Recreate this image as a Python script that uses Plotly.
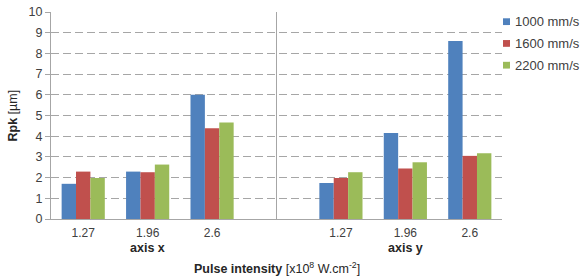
import plotly.graph_objects as go

categories = ["1.27", "1.96", "2.6", "", "1.27", "1.96", "2.6"]
groups = ["axis x", "axis y"]
series_names = ["1000 mm/s", "1600 mm/s", "2200 mm/s"]
v1000 = [1.70, 2.29, 6.00, None, 1.74, 4.16, 8.60]
v1600 = [2.29, 2.26, 4.38, None, 1.98, 2.44, 3.05]
v2200 = [1.98, 2.63, 4.66, None, 2.26, 2.74, 3.18]
colors = ["#4F81BD", "#C0504D", "#9BBB59"]

xpos = list(range(len(categories)))
tickpos = [i for i, c in zip(xpos, categories) if c]
ticktxt = [c for c in categories if c]
font = "Liberation Sans, Arial, sans-serif"
txt = "#404040"
grid = "#A6A6A6"

W, H = 587, 280
L, R, T, B = 51, 85, 5, 61
pw, ph = W - L - R, H - T - B

fig = go.Figure()
for name, vals, col in zip(series_names, [v1000, v1600, v2200], colors):
    fig.add_trace(go.Bar(x=xpos, y=vals, name=name, showlegend=False,
                         marker=dict(color=col, line=dict(width=0))))

fig.update_layout(
    width=W, height=H,
    margin=dict(l=L, r=R, t=T, b=B),
    paper_bgcolor="white", plot_bgcolor="white",
    barmode="group", bargap=0.33, bargroupgap=0,
    font=dict(family=font, size=12, color=txt),
    xaxis=dict(range=[-0.5, 6.5], tickmode="array", tickvals=tickpos, ticktext=ticktxt,
               showline=True, linecolor=grid, linewidth=1, ticks="", showgrid=False,
               zeroline=False, ticklabelstandoff=3, tickfont=dict(size=12, color=txt)),
    yaxis=dict(range=[0, 10], dtick=1, showline=True, linecolor=grid, linewidth=1,
               ticks="outside", ticklen=5, tickcolor=grid, showgrid=True, gridcolor=grid,
               griddash="8px,4px", zeroline=False, ticklabeloverflow="allow",
               tickfont=dict(size=12.5, color=txt)),
)

fig.add_shape(type="line", xref="x", yref="y", x0=3, x1=3, y0=0, y1=10,
              line=dict(color=grid, width=1))

# manual legend (pixel layout -> paper coords)
def px(x):
    return (x - L) / pw

def py(y):
    return 1 - (y - T) / ph

for i, (name, col) in enumerate(zip(series_names, colors)):
    cy = 15 + i * 22.5
    fig.add_shape(type="rect", xref="paper", yref="paper",
                  x0=px(503), x1=px(510), y0=py(cy + 3.5), y1=py(cy - 3.5),
                  fillcolor=col, line=dict(width=0))
    fig.add_annotation(x=px(513), y=py(cy), xref="paper", yref="paper", text=name,
                       showarrow=False, xanchor="left", yanchor="middle",
                       font=dict(size=13, color=txt))

for gname, gx in zip(groups, [1, 5]):
    fig.add_annotation(x=gx, xref="x", y=py(249), yref="paper", text="<b>" + gname + "</b>",
                       showarrow=False, yanchor="middle", font=dict(size=12.5, color="#262626"))

fig.add_annotation(x=0.5, xref="paper", y=py(270), yref="paper",
                   text="<b>Pulse intensity</b> [x10<sup>8</sup> W.cm<sup>-2</sup>]",
                   showarrow=False, yanchor="middle", font=dict(size=12.5, color="#262626"))
fig.add_annotation(x=px(12), xref="paper", y=py(112), yref="paper", textangle=-90,
                   text="<b>Rpk</b> [µm]", showarrow=False, xanchor="center",
                   font=dict(size=12.5, color="#262626"))

fig.write_html("out.html")
